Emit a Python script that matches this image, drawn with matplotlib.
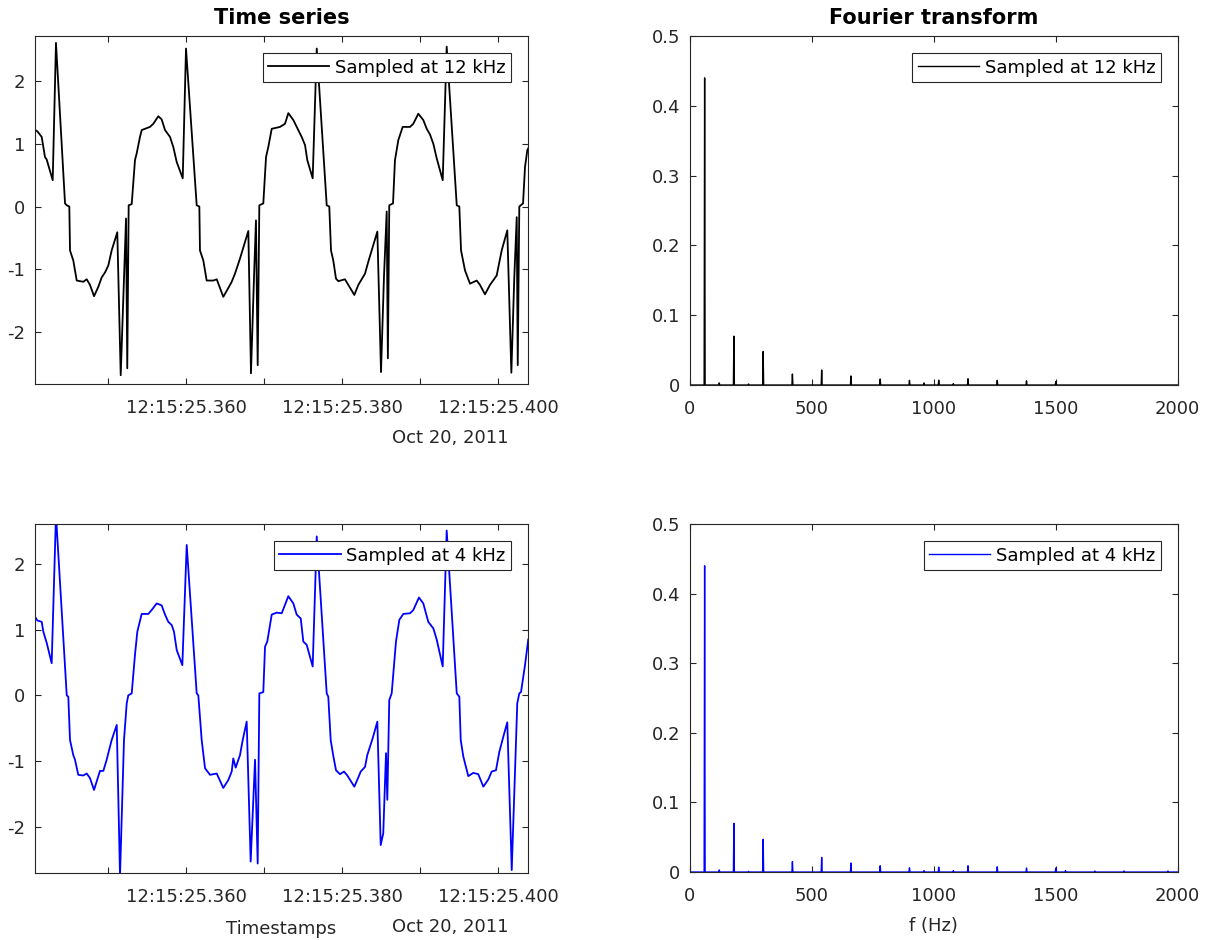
import numpy as np
import matplotlib
matplotlib.use("Agg")
import matplotlib.pyplot as plt

plt.rcParams['font.family'] = ['DejaVu Sans']
plt.rcParams['axes.unicode_minus'] = False

# time series, ms after 12:15:25.340 and values
t12 = [0.42, 0.94, 1.50, 1.92, 2.14, 2.91, 3.33, 4.49, 4.71, 5.04,
       5.13, 5.55, 5.99, 6.83, 7.27, 7.69, 8.21, 8.76, 9.19, 9.62,
       10.04, 10.47, 11.19, 11.63, 12.05, 12.31, 12.47, 12.65, 13.04, 13.46,
       13.68, 14.10, 14.32, 14.74, 15.38, 15.81, 16.45, 16.88, 17.31, 17.95,
       18.37, 18.81, 19.58, 20.00, 21.37, 21.71, 21.79, 22.22, 22.65, 23.50,
       23.94, 24.78, 25.42, 25.86, 26.28, 26.92, 27.99, 28.33, 28.72, 28.97,
       29.19, 29.40, 29.91, 30.26, 30.55, 30.99, 32.05, 32.69, 33.12, 33.76,
       34.40, 34.83, 35.26, 35.55, 36.24, 36.76, 38.04, 38.37, 38.59, 38.88,
       39.23, 39.53, 40.38, 40.81, 41.58, 42.09, 42.95, 43.37, 43.81, 44.53,
       45.00, 45.38, 45.73, 45.88, 46.06, 46.54, 46.79, 47.22, 47.78, 48.72,
       49.14, 49.78, 50.42, 50.86, 51.28, 51.71, 52.14, 52.91, 53.42, 54.71,
       55.04, 55.26, 55.77, 56.41, 57.27, 57.69, 58.33, 58.97, 59.83, 60.47,
       61.19, 61.71, 62.09, 62.40, 62.53, 62.73, 63.21, 63.46, 63.76, 63.97]
v12 = [1.24, 1.20, 1.11, 0.79, 0.75, 0.42, 2.61, 0.05, 0.02, 0.00,
       -0.70, -0.86, -1.18, -1.20, -1.16, -1.25, -1.43, -1.28, -1.13, -1.05,
       -0.94, -0.70, -0.41, -2.69, -1.12, -0.19, -2.58, 0.02, 0.04, 0.74,
       0.85, 1.11, 1.22, 1.24, 1.27, 1.32, 1.44, 1.39, 1.22, 1.11,
       0.95, 0.71, 0.45, 2.52, 0.02, 0.00, -0.70, -0.86, -1.18, -1.18,
       -1.16, -1.44, -1.30, -1.20, -1.07, -0.83, -0.39, -2.66, -1.12, -0.22,
       -2.53, 0.02, 0.05, 0.79, 0.95, 1.24, 1.27, 1.32, 1.49, 1.38,
       1.22, 1.11, 0.98, 0.74, 0.45, 2.52, 0.02, 0.00, -0.70, -0.86,
       -1.15, -1.19, -1.16, -1.25, -1.41, -1.25, -1.07, -0.88, -0.70, -0.40,
       -2.64, -1.12, -0.08, -2.42, 0.02, 0.05, 0.74, 1.06, 1.27, 1.27,
       1.32, 1.48, 1.38, 1.24, 1.15, 1.00, 0.77, 0.42, 2.55, 0.02,
       0.00, -0.70, -1.02, -1.23, -1.18, -1.25, -1.40, -1.25, -1.10, -0.70,
       -0.38, -2.65, -1.12, -0.17, -2.53, 0.00, 0.05, 0.63, 0.90, 0.95]

t4 = [0.42, 0.94, 1.50, 1.71, 2.14, 2.78, 3.33, 4.71, 4.91, 5.13,
      5.55, 5.77, 6.19, 6.83, 7.27, 7.69, 8.21, 8.55, 8.97, 9.40,
      9.83, 10.47, 11.12, 11.54, 12.05, 12.40, 12.60, 13.04, 13.46, 13.76,
      14.32, 15.17, 15.60, 16.24, 16.88, 17.31, 17.73, 18.17, 18.46, 18.81,
      19.53, 20.09, 21.37, 21.58, 22.01, 22.44, 23.08, 23.94, 24.78, 25.42,
      25.86, 26.06, 26.37, 26.92, 27.27, 27.78, 28.29, 28.85, 29.19, 29.40,
      29.91, 30.13, 30.42, 30.99, 31.63, 32.27, 33.12, 33.76, 34.19, 34.71,
      35.04, 35.47, 36.24, 36.76, 38.04, 38.24, 38.55, 38.88, 39.23, 39.74,
      40.26, 40.68, 41.58, 42.09, 42.40, 42.95, 43.24, 43.94, 44.53, 44.96,
      45.29, 45.64, 45.81, 46.06, 46.37, 46.92, 47.35, 47.86, 48.72, 49.14,
      49.87, 50.42, 51.06, 51.71, 52.14, 52.91, 53.42, 54.71, 55.04, 55.22,
      55.55, 56.19, 56.83, 57.47, 58.12, 58.76, 59.19, 59.74, 60.17, 60.68,
      61.19, 61.76, 62.47, 62.73, 62.95, 63.46, 63.88]
v4 = [1.24, 1.14, 1.12, 0.97, 0.80, 0.49, 2.75, 0.00, -0.02, -0.68,
      -0.91, -0.98, -1.21, -1.22, -1.19, -1.26, -1.44, -1.31, -1.15, -1.15,
      -0.98, -0.68, -0.45, -2.75, -0.68, -0.12, 0.00, 0.03, 0.62, 0.97,
      1.24, 1.24, 1.30, 1.40, 1.37, 1.23, 1.12, 1.07, 0.97, 0.69,
      0.46, 2.29, 0.03, 0.00, -0.68, -1.11, -1.21, -1.19, -1.41, -1.29,
      -1.16, -0.96, -1.10, -0.91, -0.68, -0.40, -2.53, -0.98, -2.56, 0.03,
      0.05, 0.74, 0.82, 1.23, 1.26, 1.25, 1.51, 1.40, 1.23, 1.17,
      0.82, 0.77, 0.44, 2.42, 0.03, -0.02, -0.68, -0.92, -1.14, -1.20,
      -1.16, -1.22, -1.39, -1.25, -1.16, -1.09, -0.91, -0.65, -0.40, -2.28,
      -2.10, -0.88, -1.59, -0.07, 0.03, 0.82, 1.15, 1.24, 1.25, 1.30,
      1.49, 1.40, 1.12, 1.02, 0.85, 0.44, 2.51, 0.03, -0.02, -0.68,
      -0.93, -1.23, -1.18, -1.20, -1.39, -1.28, -1.16, -1.14, -0.86, -0.63,
      -0.41, -2.66, -0.12, 0.03, 0.05, 0.46, 0.85]

# spectrum peaks (Hz, amplitude)
peaks12_f = [60, 120, 180, 240, 300, 420, 540, 660, 780, 900, 960, 1020,
             1080, 1140, 1260, 1380, 1500]
peaks12_a = [0.44, 0.003, 0.070, 0.0015, 0.048, 0.0157, 0.0215, 0.013,
             0.0086, 0.0067, 0.003, 0.007, 0.002, 0.009, 0.0067, 0.006, 0.005]
peaks4_f = [60, 120, 180, 240, 300, 420, 540, 660, 780, 900, 960, 1020,
            1080, 1140, 1260, 1380, 1500, 1540, 1660, 1780, 1960]
peaks4_a = [0.44, 0.003, 0.070, 0.001, 0.047, 0.015, 0.021, 0.013, 0.009,
            0.006, 0.002, 0.007, 0.002, 0.009, 0.0075, 0.0057, 0.0057,
            0.002, 0.0015, 0.0015, 0.0015]

tick_ms = [10, 20, 30, 40, 50, 60]
tick_labels = ['', '12:15:25.360', '', '12:15:25.380', '', '12:15:25.400']
xlim_ms = [0.64, 63.85]

base = np.datetime64('2011-10-20T12:15:25.340')


def to_time(ms):
    return base + np.round(np.asarray(ms) * 1000).astype('timedelta64[us]')


def spectrum(pf, pa):
    f = np.arange(0, 2001, 2)
    a = np.zeros(len(f))
    for fi, ai in zip(pf, pa):
        a[np.argmin(np.abs(f - fi))] = ai
    return f, a


def style(ax):
    for s in ax.spines.values():
        s.set_color('0.15')
        s.set_linewidth(0.8)
    ax.tick_params(direction='in', top=True, right=True, length=4,
                   width=0.8, color='0.15', labelcolor='0.15', labelsize=13)
    ax.tick_params(axis='x', pad=11)
    ax.tick_params(axis='y', pad=7)


def legend(ax):
    leg = ax.legend(loc='upper right', fontsize=13,
                    fancybox=False, framealpha=1, edgecolor='0.15',
                    borderpad=0.3, handlelength=3.4, handletextpad=0.3,
                    borderaxespad=0.95)
    leg.get_frame().set_linewidth(0.8)


fig = plt.figure(figsize=(12.15, 9.4), dpi=100)
ax1 = fig.add_axes([0.0288, 0.5915, 0.4058, 0.3702])
ax2 = fig.add_axes([0.5679, 0.5904, 0.4014, 0.3713])
ax3 = fig.add_axes([0.0288, 0.0716, 0.4058, 0.3710])
ax4 = fig.add_axes([0.5679, 0.0723, 0.4014, 0.3702])

# time series
for ax, t, v, c, lab, yl in [(ax1, t12, v12, 'k', 'Sampled at 12 kHz', (-2.83, 2.72)),
                             (ax3, t4, v4, 'b', 'Sampled at 4 kHz', (-2.70, 2.61))]:
    ax.plot(to_time(t), v, color=c, lw=1.3, label=lab)
    ax.set_xlim(to_time(xlim_ms))
    ax.set_ylim(*yl)
    ax.set_yticks([-2, -1, 0, 1, 2])
    ax.set_xticks(to_time(tick_ms))
    ax.set_xticklabels(tick_labels)
    style(ax)
    legend(ax)
    ax.text(0.842, -0.155, 'Oct 20, 2011', transform=ax.transAxes,
            ha='center', va='center', fontsize=13, color='0.15')

ax3.set_xlabel('Timestamps', fontsize=13, color='0.15')
ax3.xaxis.set_label_coords(0.5, -0.135)

# fourier transforms
for ax, pf, pa, c, lab in [(ax2, peaks12_f, peaks12_a, 'k', 'Sampled at 12 kHz'),
                           (ax4, peaks4_f, peaks4_a, 'b', 'Sampled at 4 kHz')]:
    f, a = spectrum(pf, pa)
    ax.plot(f, a, color=c, lw=1.0, label=lab)
    ax.set_xlim(0, 2000)
    ax.set_ylim(0, 0.5)
    ax.set_xticks([0, 500, 1000, 1500, 2000])
    ax.set_yticks([0, 0.1, 0.2, 0.3, 0.4, 0.5])
    ax.set_yticklabels(['0', '0.1', '0.2', '0.3', '0.4', '0.5'])
    style(ax)
    legend(ax)

ax4.set_xlabel('f (Hz)', fontsize=13, color='0.15')
ax4.xaxis.set_label_coords(0.5, -0.129)

ax1.set_title('Time series', fontsize=15, fontweight='bold', pad=9)
ax2.set_title('Fourier transform', fontsize=15, fontweight='bold', pad=9)

fig.savefig('out.png', dpi=100)
